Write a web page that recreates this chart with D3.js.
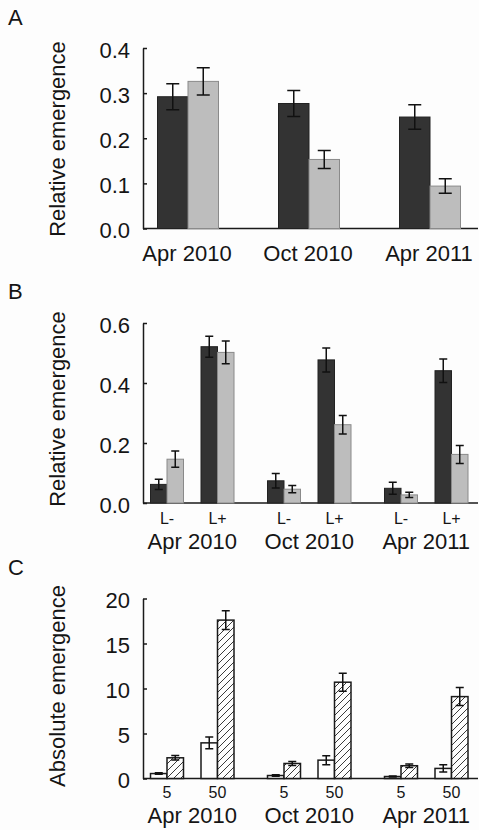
<!DOCTYPE html>
<html>
<head>
<meta charset="utf-8">
<script src="https://cdn.jsdelivr.net/npm/d3@7"></script>
<style>
  body { margin: 0; background: #fdfdfd; }
  text { font-family: "Liberation Sans", Arial, sans-serif; fill: #151515; }
  .axis path, .axis line { stroke: #1a1a1a; stroke-width: 1.5; }
</style>
</head>
<body>
<script>
var w = 479;
var h = 830;

// data
var dates = ["Apr 2010", "Oct 2010", "Apr 2011"];

var aDark = [0.292, 0.277, 0.247];
var aDarkErr = [0.029, 0.029, 0.027];
var aLight = [0.326, 0.153, 0.094];
var aLightErr = [0.030, 0.020, 0.016];
var aTicks = [0, 0.1, 0.2, 0.3, 0.4];

var bSub = ["L-", "L+"];
var bDark = [0.062, 0.521, 0.074, 0.477, 0.049, 0.441];
var bDarkErr = [0.017, 0.035, 0.024, 0.040, 0.020, 0.039];
var bLight = [0.146, 0.502, 0.046, 0.261, 0.027, 0.162];
var bLightErr = [0.027, 0.038, 0.012, 0.031, 0.009, 0.030];
var bTicks = [0, 0.2, 0.4, 0.6];

var cSub = ["5", "50"];
var cOpen = [0.55, 3.96, 0.33, 2.04, 0.22, 1.12];
var cOpenErr = [0.08, 0.65, 0.08, 0.50, 0.06, 0.40];
var cHatch = [2.3, 17.6, 1.67, 10.7, 1.42, 9.1];
var cHatchErr = [0.25, 1.05, 0.22, 1.0, 0.2, 1.0];
var cTicks = [0, 5, 10, 15, 20];

var axisX = 143;
var axisEnd = 478;

var svg = d3.select("body")
            .append("svg")
            .attr("width", w)
            .attr("height", h);

var defs = svg.append("defs");
var pat = defs.append("pattern")
    .attr("id", "hatch")
    .attr("patternUnits", "userSpaceOnUse")
    .attr("width", 7)
    .attr("height", 7);
pat.append("rect").attr("width", 7).attr("height", 7).attr("fill", "#fdfdfd");
pat.append("path")
    .attr("d", "M0,7 L7,0 M-2,2 L2,-2 M5,9 L9,5")
    .attr("stroke", "#3a3a3a")
    .attr("stroke-width", 1);

function yAxisDraw(y, ticks, fmt) {
  svg.append("g")
     .attr("class", "axis")
     .attr("transform", "translate(" + axisX + ",0)")
     .call(d3.axisLeft(y).tickValues(ticks).tickSize(-4).tickSizeOuter(0)
            .tickPadding(13).tickFormat(d3.format(fmt)))
     .call(function(g) {
        g.selectAll("text").attr("font-size", 22).attr("dy", "0.42em")
         .style("font-family", "'Liberation Sans', Arial, sans-serif").attr("fill", "#151515");
     });
  svg.append("line")
     .attr("x1", axisX).attr("x2", axisEnd)
     .attr("y1", y(0)).attr("y2", y(0))
     .attr("stroke", "#1a1a1a").attr("stroke-width", 1.5);
}

function errBar(x, y, v, e, cap) {
  svg.append("path")
     .attr("d", "M" + (x - cap / 2) + "," + y(v + e) + "H" + (x + cap / 2) +
                "M" + x + "," + y(v + e) + "V" + y(v - e) +
                "M" + (x - cap / 2) + "," + y(v - e) + "H" + (x + cap / 2))
     .attr("fill", "none").attr("stroke", "#111").attr("stroke-width", 1.5);
}

function titles(letter, ly, title, ty) {
  svg.append("text").attr("x", 8).attr("y", ly).attr("font-size", 22).text(letter);
  svg.append("text")
     .attr("transform", "translate(65," + ty + ") rotate(-90)")
     .attr("text-anchor", "middle")
     .attr("font-size", 22)
     .text(title);
}

//Panel A
var yA = d3.scaleLinear().domain([0, 0.4]).range([228.5, 48]);
var xA = d3.scaleBand().domain(dates).range([127.5, 490.5]);
var xAin = d3.scaleBand().domain(["dark", "light"]).range([30, 91]);

yAxisDraw(yA, aTicks, ".1f");
titles("A", 25, "Relative emergence", 139);

dates.forEach(function(d, i) {
  var xd = xA(d) + xAin("dark"), xl = xA(d) + xAin("light"), bw = xAin.bandwidth();
  svg.append("rect").attr("x", xd).attr("y", yA(aDark[i]))
     .attr("width", bw).attr("height", yA(0) - yA(aDark[i]))
     .attr("fill", "#333333").attr("stroke", "#222").attr("stroke-width", 1);
  svg.append("rect").attr("x", xl).attr("y", yA(aLight[i]))
     .attr("width", bw).attr("height", yA(0) - yA(aLight[i]))
     .attr("fill", "#bdbdbd").attr("stroke", "#8a8a8a").attr("stroke-width", 1);
  errBar(xd + bw / 2, yA, aDark[i], aDarkErr[i], 13);
  errBar(xl + bw / 2, yA, aLight[i], aLightErr[i], 13);
  svg.append("text").attr("x", xA(d) + xA.bandwidth() / 2 - 1).attr("y", 261)
     .attr("text-anchor", "middle").attr("font-size", 22).text(d);
});

//Panel B and C share the x layout
var xG = d3.scaleBand().domain(dates).range([133.75, 484.75]);
var bw2 = 16.5;

var yB = d3.scaleLinear().domain([0, 0.6]).range([503, 323]);
var xBin = d3.scalePoint().domain(bSub).range([33.25, 83.75]);

yAxisDraw(yB, bTicks, ".1f");
titles("B", 299, "Relative emergence", 409);

dates.forEach(function(d, i) {
  bSub.forEach(function(s, j) {
    var k = i * 2 + j;
    var c = xG(d) + xBin(s);
    svg.append("rect").attr("x", c - bw2).attr("y", yB(bDark[k]))
       .attr("width", bw2).attr("height", yB(0) - yB(bDark[k]))
       .attr("fill", "#333333").attr("stroke", "#222").attr("stroke-width", 1);
    svg.append("rect").attr("x", c).attr("y", yB(bLight[k]))
       .attr("width", bw2).attr("height", yB(0) - yB(bLight[k]))
       .attr("fill", "#bdbdbd").attr("stroke", "#8a8a8a").attr("stroke-width", 1);
    errBar(c - bw2 / 2, yB, bDark[k], bDarkErr[k], 8);
    errBar(c + bw2 / 2, yB, bLight[k], bLightErr[k], 8);
    svg.append("text").attr("x", c).attr("y", 524)
       .attr("text-anchor", "middle").attr("font-size", 16).text(s);
  });
  svg.append("text").attr("x", xG(d) + xG.bandwidth() / 2).attr("y", 549)
     .attr("text-anchor", "middle").attr("font-size", 22).text(d);
});

//Panel C
var yC = d3.scaleLinear().domain([0, 20]).range([778.5, 598.5]);
var xCin = d3.scalePoint().domain(cSub).range([33.25, 83.75]);

yAxisDraw(yC, cTicks, "d");
titles("C", 575, "Absolute emergence", 686);

dates.forEach(function(d, i) {
  cSub.forEach(function(s, j) {
    var k = i * 2 + j;
    var c = xG(d) + xCin(s);
    svg.append("rect").attr("x", c - bw2).attr("y", yC(cOpen[k]))
       .attr("width", bw2).attr("height", yC(0) - yC(cOpen[k]))
       .attr("fill", "#fdfdfd").attr("stroke", "#1a1a1a").attr("stroke-width", 1.5);
    svg.append("rect").attr("x", c).attr("y", yC(cHatch[k]))
       .attr("width", bw2).attr("height", yC(0) - yC(cHatch[k]))
       .attr("fill", "url(#hatch)").attr("stroke", "#1a1a1a").attr("stroke-width", 1.5);
    errBar(c - bw2 / 2, yC, cOpen[k], cOpenErr[k], 8);
    errBar(c + bw2 / 2, yC, cHatch[k], cHatchErr[k], 8);
    svg.append("text").attr("x", c).attr("y", 798)
       .attr("text-anchor", "middle").attr("font-size", 16).text(s);
  });
  svg.append("text").attr("x", xG(d) + xG.bandwidth() / 2).attr("y", 823)
     .attr("text-anchor", "middle").attr("font-size", 22).text(d);
});
</script>
</body>
</html>
